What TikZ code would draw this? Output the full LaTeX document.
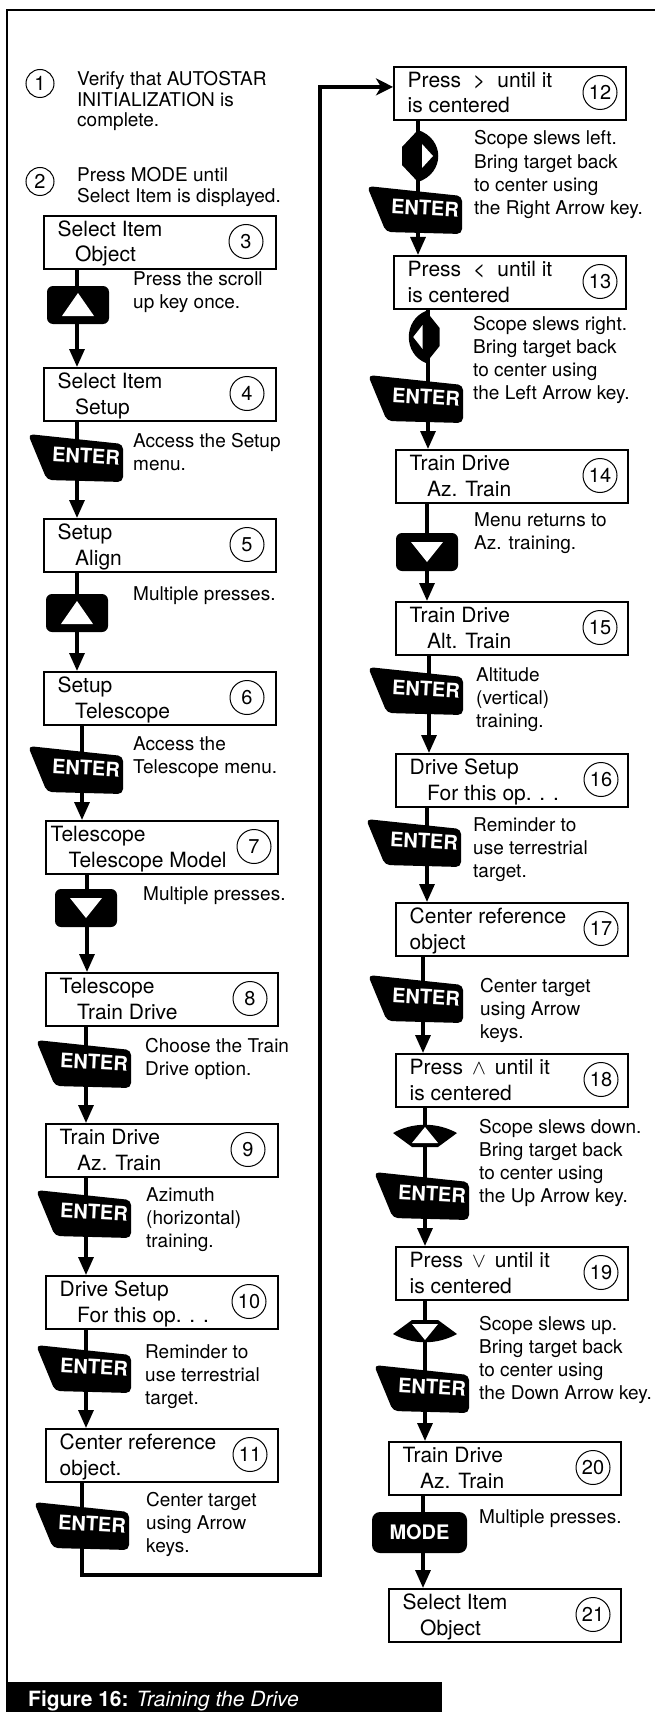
\documentclass[tikz,border=0pt]{standalone}
\usepackage{fontspec}
\setmainfont{TeX Gyre Heros}
\usepackage{tikz}
\usetikzlibrary{arrows.meta}

\newcommand{\boxfont}{\fontsize{21}{25.5}\selectfont}
\newcommand{\notefont}{\fontsize{19}{23.3}\selectfont}
\newcommand{\stepfont}{\fontsize{19}{20}\selectfont}
\newcommand{\numfont}{\fontsize{20}{24}\selectfont}
\newcommand{\keyfont}{\fontsize{20}{24}\selectfont\bfseries}
\newcommand{\msglines}[1]{\begin{tabular}[t]{@{}l@{}}#1\end{tabular}}
\newcommand{\shiftin}{\hspace*{17.5pt}}

\tikzset{
  screen/.style={draw, line width=1.8pt, minimum width=232pt, minimum height=53pt,
    anchor=north west, inner sep=0pt},
  screentext/.style={anchor=base west, inner sep=0pt, font=\boxfont},
  stepnum/.style={draw, circle, line width=1pt, minimum size=34pt, inner sep=0pt, font=\numfont},
  note/.style={anchor=base west, inner sep=0pt, font=\notefont},
  keytext/.style={text=white, inner sep=0pt, font=\keyfont},
  keybox/.style={fill=black, rounded corners=6pt, minimum width=62pt, minimum height=38pt, inner sep=0pt},
  modekey/.style={keybox, rounded corners=8pt, minimum width=95pt, minimum height=41pt,
    text=white, font=\keyfont},
  flow/.style={line width=3.2pt, -{Triangle[length=18pt,width=15pt]}},
  outerframe/.style={line width=2pt}
}

% display box: name, x, y, lines, number, circle x
\newcommand{\screen}[6]{%
  \node[screen] (#1) at (#2,#3) {};
  \node[screentext] (#1text) at (#2+14.5,#3+21.5) {\msglines{#4}};
  \node[stepnum] (#1num) at (#6,#3+26.5) {#5};
}
% keys
\newcommand{\enterkey}[3]{%
  \fill[rounded corners=5pt] (#2+1,#3+1) -- (#2+96,#3+11) -- (#2+96,#3+49) -- (#2+20,#3+47) -- cycle;
  \node[keytext, rotate=-3] (#1) at (#2+59,#3+23) {ENTER};
}
\newcommand{\scrollkey}[5]{%
  \node[keybox] (#1) at (#2+31,#3+19) {};
  \fill[white, shift={(#1.center)}] (-16,#5) -- (16,#5) -- (0,#4) -- cycle;
}
\newcommand{\sidekey}[4]{%
  \coordinate (#1) at (#2,#3);
  \begin{scope}[shift={(#1)}, xscale=#4]
    \fill (0,-26) -- (-16,-9) -- (-16,9) -- (0,26) .. controls (27,17) and (27,-17) .. (0,-26) -- cycle;
    \fill[white] (4,-12) -- (4,12) -- (15,0) -- cycle;
  \end{scope}
}
\newcommand{\bowkey}[4]{%
  \coordinate (#1) at (#2,#3);
  \begin{scope}[shift={(#1)}, yscale=#4]
    \fill (-32,-3) .. controls (-12,-14) and (12,-14) .. (32,-3) -- (13,11) -- (-13,11) -- cycle;
    \fill[white] (-13,7) -- (13,7) -- (0,-9) -- cycle;
  \end{scope}
}
\newcommand{\flowdown}[3]{%
  \draw[flow] ([xshift=#3pt]#1.south west) -- ([xshift=#3pt]#1.south west |- #2.north);
}

\begin{document}
\begin{tikzpicture}[x=1pt, y=-1pt]

    \useasboundingbox (0,0) rectangle (654,1712);

    \draw[outerframe] (7,1682) -- (7,10) -- (670,10);
    \fill (6,1682) rectangle (442,1716);
    \node[anchor=base west, inner sep=0pt, text=white, font=\fontsize{21}{25}\selectfont]
      (caption) at (28,1706) {\textbf{Figure 16:} \textit{Training the Drive}};

    \node[stepnum, minimum size=28pt] (n1) at (40,83.5) {1};
    \node[anchor=base west, inner sep=0pt, font=\stepfont] (t1) at (77,86)
      {\msglines{Verify that AUTOSTAR\\INITIALIZATION is\\complete.}};
    \node[stepnum, minimum size=28pt] (n2) at (40,181.5) {2};
    \node[anchor=base west, inner sep=0pt, font=\stepfont] (t2) at (77,182)
      {\msglines{Press MODE until\\Select Item is displayed.}};

    \screen{b3}{43}{215}{Select Item\\\shiftin Object}{3}{246}
    \screen{b4}{43}{367}{Select Item\\\shiftin Setup}{4}{247}
    \screen{b5}{43}{518}{Setup\\\shiftin Align}{5}{247}
    \screen{b6}{43}{671}{Setup\\\shiftin Telescope}{6}{247}
    \screen{b7}{45}{820}{\hspace*{-9pt}Telescope\\\hspace*{9pt}Telescope Model}{7}{254}
    \screen{b8}{45}{972}{Telescope\\\shiftin Train Drive}{8}{250}
    \screen{b9}{45}{1123}{Train Drive\\\shiftin Az. Train}{9}{248}
    \screen{b10}{45}{1275}{Drive Setup\\\shiftin For this op. . .}{10}{249}
    \screen{b11}{45}{1428}{Center reference\\object.}{11}{250}
    \screen{b12}{393}{66}{Press\hspace{12pt}>\hspace{12pt}until it\\is centered}{12}{600}
    \screen{b13}{393}{255}{Press\hspace{12pt}<\hspace{12pt}until it\\is centered}{13}{600}
    \screen{b14}{395}{449}{Train Drive\\\shiftin Az. Train}{14}{600}
    \screen{b15}{395}{601}{Train Drive\\\shiftin Alt. Train}{15}{600}
    \screen{b16}{395}{753}{Drive Setup\\\shiftin For this op. . .}{16}{601}
    \screen{b17}{395}{902}{Center reference\\object}{17}{601}
    \screen{b18}{395}{1053}{Press\hspace{9pt}$\wedge$\hspace{9pt}until it\\is centered}{18}{601}
    \screen{b19}{395}{1246}{Press\hspace{9pt}$\vee$\hspace{9pt}until it\\is centered}{19}{601}
    \screen{b20}{388}{1441}{Train Drive\\\shiftin Az. Train}{20}{593}
    \screen{b21}{388}{1588}{Select Item\\\shiftin Object}{21}{593}

    \flowdown{b3}{b4}{34}
    \flowdown{b4}{b5}{34}
    \flowdown{b5}{b6}{34}
    \flowdown{b6}{b7}{39}
    \flowdown{b7}{b8}{42}
    \flowdown{b8}{b9}{41}
    \flowdown{b9}{b10}{41}
    \flowdown{b10}{b11}{41}
    \flowdown{b12}{b13}{25}
    \flowdown{b13}{b14}{35}
    \flowdown{b14}{b15}{32}
    \flowdown{b15}{b16}{34}
    \flowdown{b16}{b17}{32}
    \flowdown{b17}{b18}{28}
    \flowdown{b18}{b19}{30}
    \flowdown{b19}{b20}{30}
    \flowdown{b20}{b21}{35}

    \coordinate (turn) at (320,1575);
    \draw[flow, line width=3.5pt, -{Stealth[length=17pt,width=17pt,inset=5pt]}]
      ([xshift=37pt]b11.south west) |- (turn) |- ([yshift=6.5pt]b12.west);

    \scrollkey{k3}{47}{286}{-12}{11}
    \enterkey{k4}{27}{433}
    \scrollkey{k5}{46}{594}{-12}{11}
    \enterkey{k6}{27}{745}
    \scrollkey{k7}{55}{889}{10}{-10}
    \enterkey{k8}{35}{1039}
    \enterkey{k9}{35}{1189}
    \enterkey{k10}{35}{1344}
    \enterkey{k11}{33}{1501}
    \sidekey{k12a}{418}{156}{1}
    \enterkey{k12}{366}{185}
    \sidekey{k13a}{426}{337}{-0.85}
    \enterkey{k13}{367}{374}
    \scrollkey{k14}{396}{533}{10}{-10}
    \enterkey{k15}{367}{666}
    \enterkey{k16}{365}{818}
    \enterkey{k17}{367}{974}
    \bowkey{k18a}{425}{1136}{1}
    \enterkey{k18}{373}{1171}
    \bowkey{k19a}{425}{1331}{-1}
    \enterkey{k19}{373}{1364}
    \node[modekey] (k20) at (419.5,1532.5) {MODE};

    \node[note] (t3) at (133,285) {\msglines{Press the scroll\\up key once.}};
    \node[note] (t4) at (133,447) {\msglines{Access the Setup\\menu.}};
    \node[note] (t5) at (133,600) {Multiple presses.};
    \node[note] (t6) at (133,750) {\msglines{Access the\\Telescope menu.}};
    \node[note] (t7) at (143,900) {Multiple presses.};
    \node[note] (t8) at (145,1052) {\msglines{Choose the Train\\Drive option.}};
    \node[note] (t9) at (146,1201) {\msglines{Azimuth\\(horizontal)\\training.}};
    \node[note] (t10) at (145,1358) {\msglines{Reminder to\\use terrestrial\\target.}};
    \node[note] (t11) at (146,1506) {\msglines{Center target\\using Arrow\\keys.}};
    \node[note] (t12) at (474,145)
      {\msglines{Scope slews left.\\Bring target back\\to center using\\the Right Arrow key.}};
    \node[note] (t13) at (473,330)
      {\msglines{Scope slews right.\\Bring target back\\to center using\\the Left Arrow key.}};
    \node[note] (t14) at (474,526) {\msglines{Menu returns to\\Az. training.}};
    \node[note] (t15) at (476,681) {\msglines{Altitude\\(vertical)\\training.}};
    \node[note] (t16) at (473,831) {\msglines{Reminder to\\use terrestrial\\target.}};
    \node[note] (t17) at (480,992) {\msglines{Center target\\using Arrow\\keys.}};
    \node[note] (t18) at (479,1133)
      {\msglines{Scope slews down.\\Bring target back\\to center using\\the Up Arrow key.}};
    \node[note] (t19) at (479,1330)
      {\msglines{Scope slews up.\\Bring target back\\to center using\\the Down Arrow key.}};
    \node[note] (t20) at (479,1523) {Multiple presses.};

  \end{tikzpicture}
\end{document}
